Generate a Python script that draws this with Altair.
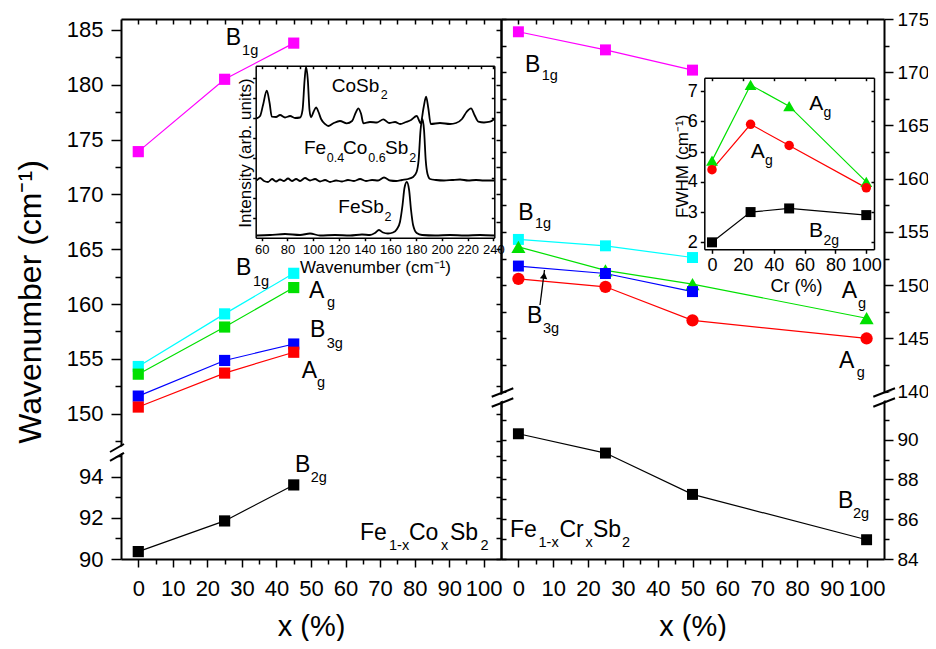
import altair as alt
import pandas as pd

FONT = "Liberation Sans"
MAGENTA, CYAN, GREEN, BLUE, RED, BLACK = "#ff00ff", "#00ffff", "#00e000", "#0000ff", "#ff0000", "#000000"

# ---------------- data: Fe1-xCoxSb2 (left panel) ----------------
co_x = [0, 25, 45]
co_B1g_high = [173.9, 180.5, 183.8]
co_B1g_low = [154.3, 159.1, 162.8]
co_Ag_high = [153.6, 157.9, 161.5]
co_B3g = [151.6, 154.85, 156.35]
co_Ag_low = [150.6, 153.7, 155.6]
co_B2g = [90.36, 91.85, 93.6]

# ---------------- data: Fe1-xCrxSb2 (right panel) ----------------
cr_x = [0, 25, 50, 100]
cr_B1g_high = [173.8, 172.1, 170.2]
cr_B1g_low = [154.3, 153.7, 152.6]
cr_Ag_high = [153.6, 151.4, 150.1, 146.9]
cr_B3g = [151.8, 151.1, 149.4]
cr_Ag_low = [150.6, 149.85, 146.7, 145.0]
cr_B2g = [90.3, 89.33, 87.25, 84.97]

# ---------------- inset: FWHM vs Cr ----------------
fwhm_x = [0, 25, 50, 100]
fwhm_Ag_high = [4.7, 7.2, 6.5, 4.0]
fwhm_Ag_low = [4.4, 5.9, 5.2, 3.8]
fwhm_B2g = [2.0, 3.0, 3.12, 2.9]

# ---------------- inset: Raman spectra ----------------
cosb2_w = [56.1, 58.7, 61.0, 63.9, 66.1, 67.8, 71.1, 74.2, 78.1, 82.0, 85.9, 89.8, 91.7, 93.3, 94.4,
           95.8, 97.1, 98.3, 100.2, 102.2, 104.1, 106.1, 109.2, 111.7, 115.6, 120.8, 126.0, 130.2,
           132.9, 135.1, 137.2, 139.0, 144.1, 149.6, 154.5, 158.9, 163.6, 167.5, 172.1, 176.0, 180.4,
           183.5, 185.7, 187.7, 189.4, 191.3, 198.5, 206.3, 211.0, 215.6, 219.1, 222.6, 225.3, 228.3,
           232.7, 237.4, 240.7]
cosb2_i = [119.4, 121.7, 132.7, 147.0, 134.7, 121.0, 120.7, 122.7, 120.2, 121.7, 119.7, 120.2, 127.7,
           157.7, 171.0, 157.7, 127.7, 120.4, 125.7, 130.4, 125.7, 118.7, 113.7, 111.7, 114.4, 116.7,
           114.4, 116.7, 124.7, 129.4, 123.7, 114.4, 115.7, 115.2, 118.4, 114.7, 115.7, 113.7, 115.7,
           117.7, 121.7, 114.4, 129.7, 141.0, 129.7, 113.7, 114.7, 113.7, 114.7, 118.7, 125.7, 129.4,
           122.7, 116.0, 115.2, 116.0, 118.7]
feco_w = [56.1, 58.7, 61.8, 64.9, 68.0, 71.1, 74.2, 77.3, 80.4, 83.5, 86.7, 89.8, 93.6, 97.5, 101.4,
          105.3, 109.2, 113.1, 117.7, 122.4, 127.0, 131.7, 136.4, 141.0, 145.7, 150.4, 155.0, 159.7,
          164.4, 169.0, 173.7, 177.6, 180.3, 181.9, 183.4, 184.8, 186.1, 187.4, 188.8, 190.8, 195.4,
          201.6, 207.9, 214.1, 220.3, 226.5, 232.7, 240.7]
feco_i = [57.2, 59.7, 56.7, 55.7, 58.7, 56.2, 58.2, 56.7, 59.2, 56.7, 58.7, 56.7, 59.7, 57.2, 58.7,
          56.2, 57.7, 55.7, 57.2, 56.2, 57.7, 56.7, 58.7, 56.7, 57.7, 57.2, 60.2, 57.2, 56.7, 57.7,
          58.7, 60.7, 65.7, 77.7, 107.7, 118.7, 107.7, 77.7, 63.7, 58.7, 57.7, 57.2, 57.7, 58.2, 57.2,
          57.7, 57.2, 57.2]
fesb2_w = [56.1, 66.4, 78.1, 89.8, 97.5, 105.3, 116.9, 128.6, 137.9, 144.1, 148.0, 151.1, 154.2, 158.1,
           162.0, 165.1, 167.4, 169.4, 170.9, 172.7, 174.5, 176.0, 177.6, 180.4, 184.6, 194.7, 206.3,
           218.0, 229.6, 240.7]
fesb2_i = [2.2, 2.7, 3.7, 2.7, 4.2, 2.2, 2.7, 2.2, 3.2, 2.7, 4.7, 7.7, 5.2, 4.2, 5.2, 8.7, 15.7, 32.7,
           49.7, 55.7, 47.7, 27.7, 12.7, 4.7, 2.7, 2.2, 2.7, 2.2, 2.7, 2.2]

# ---------------- annotations (text, x, y, font size) in data units ----------------
lu_text = ["B", "1g", "B", "1g", "A", "g", "B", "3g", "A", "g"]
lu_x = [25.33, 30.05, 28.29, 33.21, 49.42, 54.63, 49.71, 54.54, 47.31, 51.74]
lu_y = [183.63, 182.72, 162.65, 161.67, 160.55, 159.75, 156.99, 155.99, 153.25, 152.46]
lu_fs = [23, 14.5, 23, 14.5, 23, 14.5, 23, 14.5, 23, 14.5]

ll_text = ["B", "2g", "Fe", "1-x", "Co", "x", "Sb", "2"]
ll_x = [45.37, 49.91, 64.18, 72.58, 78.37, 87.63, 90.24, 99.07]
ll_y = [94.24, 93.76, 90.92, 90.44, 90.92, 90.44, 90.92, 90.44]
ll_fs = [23, 14.5, 23, 14.5, 23, 14.5, 23, 14.5]

ru_text = ["B", "1g", "B", "1g", "B", "3g", "A", "g", "A", "g"]
ru_x = [1.89, 6.69, -0.03, 4.77, 2.47, 7.06, 92.85, 97.53, 92.08, 97.16]
ru_y = [170.05, 169.27, 156.12, 155.34, 146.45, 145.51, 148.80, 147.86, 142.23, 141.41]
ru_fs = [23, 14.5, 23, 14.5, 23, 14.5, 23, 14.5, 23, 14.5]

rl_text = ["B", "2g", "Fe", "1-x", "Cr", "x", "Sb", "2"]
rl_x = [91.79, 96.10, -2.42, 5.77, 11.80, 19.27, 21.42, 29.75]
rl_y = [86.57, 86.05, 85.12, 84.62, 85.12, 84.62, 85.12, 84.62]
rl_fs = [23, 14.5, 23, 14.5, 23, 14.5, 23, 14.5]

sp_text = ["CoSb", "2", "Fe", "0.4", "Co", "0.6", "Sb", "2", "FeSb", "2"]
sp_x = [114.35, 152.43, 92.83, 110.47, 123.14, 142.79, 155.77, 174.65, 119.48, 155.38]
sp_y = [146.0, 138.7, 83.7, 76.0, 83.7, 76.0, 83.7, 76.0, 24.4, 17.0]
sp_fs = [19, 12.5, 19, 12.5, 19, 12.5, 19, 12.5, 19, 12.5]

fw_text = ["A", "g", "A", "g", "B", "2g"]
fw_x = [63.06, 72.26, 25.08, 34.35, 62.87, 72.26]
fw_y = [6.373, 6.141, 4.777, 4.555, 2.167, 1.912]
fw_fs = [21, 14, 21, 14, 21, 14]

# axis break marks and arrow (data units)
brk_l_x1, brk_l_x2 = [-8.18, -8.18], [-4.13, -4.13]
brk_l_y1, brk_l_y2 = [146.50, 145.68], [147.23, 146.41]
brk_l_mask = ([-8.18], [-4.13], [146.09], [146.82])
brk_r_x1, brk_r_x2 = [-7.67, -7.67, 101.93, 101.93], [-1.47, -1.47, 108.16, 108.16]
brk_r_y1, brk_r_y2 = [139.53, 138.59, 139.53, 138.59], [140.32, 139.38, 140.32, 139.38]
brk_r_mask = ([-7.67, 101.93], [-1.47, 108.16], [139.06, 139.06], [139.85, 139.85])
arrow = ([6.20], [7.49], [148.14], [151.43])
arrow_head = ([7.35], [150.9])

# ---------------- scales (domain, pixel range inside the plot area) ----------------
W, H = 763, 540
FRAMES = {
    "Lx": ([-5, 105], [0, 380]),
    "Rx": ([-5, 105], [380, 763]),
    "LU": ([146.5, 186], [433, 0]),
    "LL": ([90, 95.2], [540, 433]),
    "RU": ([140, 175], [372.7, 0]),
    "RL": ([84, 92.2], [540, 377]),
    "Sx": ([55.3, 240.7], [134.7, 373.3]),
    "Sy": ([0, 172], [218.7, 46.7]),
    "Fx": ([-5, 105], [583.3, 753]),
    "Fy": ([1.77, 7.44], [230.3, 58.7]),
}


def scale(f):
    dom, rng = FRAMES[f]
    return alt.Scale(domain=dom, range=rng, nice=False, zero=False)


def ex(f, axis=None, field="x"):
    return alt.X(f"{field}:Q", scale=scale(f), axis=axis)


def ey(f, axis=None, field="y"):
    return alt.Y(f"{field}:Q", scale=scale(f), axis=axis)


def ax(orient, values, tick, offset=0, labels=False, domain=True, **kw):
    base = dict(orient=orient, values=values, tickSize=tick, offset=offset, labels=labels,
                domain=domain, grid=False, labelOverlap=False, labelFlush=False, title=None)
    base.update(kw)
    return alt.Axis(**base)


def steps(a, b, s):
    out, v = [], a
    while v <= b + 1e-9:
        out.append(round(v, 3))
        v += s
    return out


def series_df(xs, series):
    rows = []
    for ys, color, shape, size in series:
        for xv, yv in zip(xs, ys):
            rows.append({"x": xv, "y": yv, "c": color, "shape": shape, "sz": size, "s": color})
    return pd.DataFrame(rows)


def text_df(t, x, y, fs):
    return pd.DataFrame({"t": t, "x": x, "y": y, "fs": fs})


def line_layer(df, fx, fy, xaxis=None, yaxis=None, width=1.2, interp="linear"):
    return alt.Chart(df).mark_line(strokeWidth=width, interpolate=interp).encode(
        x=ex(fx, xaxis), y=ey(fy, yaxis), color=alt.Color("c:N", scale=None), detail="s:N")


def point_layer(df, fx, fy, xaxis=None, yaxis=None):
    return alt.Chart(df).mark_point(filled=True, opacity=1, strokeWidth=0).encode(
        x=ex(fx, xaxis), y=ey(fy, yaxis), color=alt.Color("c:N", scale=None),
        shape=alt.Shape("shape:N", scale=None), size=alt.Size("sz:Q", scale=None))


def text_layer(df, fx, fy, xaxis=None, yaxis=None):
    return alt.Chart(df).mark_text(align="left", baseline="alphabetic", font=FONT, color="black").encode(
        x=ex(fx, xaxis), y=ey(fy, yaxis), text="t:N", size=alt.Size("fs:Q", scale=None))


def seg_layer(x1, x2, y1, y2, fx, fy, color, width):
    df = pd.DataFrame({"x1": x1, "x2": x2, "y1": y1, "y2": y2})
    return alt.Chart(df).mark_rule(color=color, strokeWidth=width).encode(
        x=ex(fx, None, "x1"), x2="x2:Q", y=ey(fy, None, "y1"), y2="y2:Q")


SQ, CI, TR = "square", "circle", "triangle-up"
co_up = series_df(co_x, [(co_B1g_high, MAGENTA, SQ, 125), (co_B1g_low, CYAN, SQ, 125),
                         (co_Ag_high, GREEN, SQ, 125), (co_B3g, BLUE, SQ, 125),
                         (co_Ag_low, RED, SQ, 125)])
co_lo = series_df(co_x, [(co_B2g, BLACK, SQ, 125)])
cr_up = series_df(cr_x, [(cr_B1g_high, MAGENTA, SQ, 120), (cr_B1g_low, CYAN, SQ, 120),
                         (cr_Ag_high, GREEN, TR, 200), (cr_B3g, BLUE, SQ, 120),
                         (cr_Ag_low, RED, CI, 150)])
cr_lo = series_df(cr_x, [(cr_B2g, BLACK, SQ, 120)])
fw = series_df(fwhm_x, [(fwhm_Ag_high, GREEN, TR, 140), (fwhm_Ag_low, RED, CI, 90),
                        (fwhm_B2g, BLACK, SQ, 100)])
spec = pd.concat([
    pd.DataFrame({"x": cosb2_w, "y": cosb2_i, "s": "CoSb2"}),
    pd.DataFrame({"x": feco_w, "y": feco_i, "s": "Fe0.4Co0.6Sb2"}),
    pd.DataFrame({"x": fesb2_w, "y": fesb2_i, "s": "FeSb2"}),
])
spec["c"] = BLACK

x_major, x_minor, x_top = steps(0, 100, 10), steps(5, 95, 10), steps(0, 100, 5)
MAIN_L = dict(labelFontSize=22, labelPadding=8)
MAIN_R = dict(labelFontSize=19, labelPadding=4)
XLAB = dict(labelFontSize=22, labelPadding=11)
XTITLE = dict(title="x (%)", titleFontSize=29, titleBaseline="alphabetic", titleY=76, titleAlign="center")

layers = [
    # ---- left panel ----
    line_layer(co_up, "Lx", "LU",
               xaxis=ax("bottom", x_major, 8, labels=True, titleX=190, **XTITLE, **XLAB),
               yaxis=ax("left", steps(150, 185, 5), 10, labels=True, title="Wavenumber (cm⁻¹)",
                        titleFontSize=32, titleAngle=270, titleAlign="center", titleBaseline="bottom",
                        titleX=-74, titleY=282.5, **MAIN_L)),
    point_layer(co_up, "Lx", "LU", xaxis=ax("bottom", x_minor, 5, domain=False),
                yaxis=ax("left", steps(147.5, 182.5, 5), 6, domain=False)),
    line_layer(co_lo, "Lx", "LL", xaxis=ax("bottom", x_top, 5, offset=-H),
               yaxis=ax("left", [90, 92, 94], 10, labels=True, **MAIN_L)),
    point_layer(co_lo, "Lx", "LL", yaxis=ax("left", [91, 93, 95], 6, domain=False)),
    text_layer(text_df(lu_text, lu_x, lu_y, lu_fs), "Lx", "LU",
               yaxis=ax("left", steps(147.5, 185, 2.5), 5, offset=-380)),
    text_layer(text_df(ll_text, ll_x, ll_y, ll_fs), "Lx", "LL",
               yaxis=ax("left", steps(90, 95, 1), 5, offset=-380)),
    # ---- right panel ----
    line_layer(cr_up, "Rx", "RU",
               xaxis=ax("bottom", x_major, 8, labels=True, titleX=571.5, **XTITLE, **XLAB),
               yaxis=ax("right", steps(140, 175, 5), 9, labels=True, **MAIN_R)),
    point_layer(cr_up, "Rx", "RU", xaxis=ax("bottom", x_minor, 5, domain=False),
                yaxis=ax("right", steps(142.5, 172.5, 5), 5, domain=False)),
    line_layer(cr_lo, "Rx", "RL", xaxis=ax("bottom", x_top, 5, offset=-H),
               yaxis=ax("right", [84, 86, 88, 90], 9, labels=True, **MAIN_R)),
    point_layer(cr_lo, "Rx", "RL", yaxis=ax("right", [85, 87, 89, 91], 5, domain=False)),
    text_layer(text_df(ru_text, ru_x, ru_y, ru_fs), "Rx", "RU",
               yaxis=ax("right", steps(140, 175, 2.5), 5, offset=-383)),
    text_layer(text_df(rl_text, rl_x, rl_y, rl_fs), "Rx", "RL",
               yaxis=ax("right", steps(84, 91, 1), 5, offset=-383)),
    # ---- spectra inset ----
    line_layer(spec, "Sx", "Sy",
               xaxis=ax("bottom", steps(60, 240, 20), 3, offset=218.7 - H, labels=True,
                        labelFontSize=13, labelPadding=3, domainWidth=1.5,
                        title="Wavenumber (cm⁻¹)", titleFontSize=17, titleBaseline="alphabetic",
                        titleX=254, titleY=35, titleAlign="center"),
               yaxis=ax("left", steps(20, 160, 20), 3, offset=-134.7, domainWidth=1.5,
                        title="Intensity (arb. units)", titleFontSize=17, titleAngle=270,
                        titleBaseline="alphabetic", titleAlign="center", titleX=-5.7, titleY=133.5),
               width=1.8, interp="monotone"),
    text_layer(text_df(sp_text, sp_x, sp_y, sp_fs), "Sx", "Sy",
               xaxis=ax("bottom", steps(60, 240, 10), 3, offset=46.7 - H, domainWidth=1.5),
               yaxis=ax("left", steps(20, 160, 20), 3, offset=-373.3, domainWidth=1.5)),
    # ---- FWHM inset ----
    line_layer(fw, "Fx", "Fy",
               xaxis=ax("bottom", steps(0, 100, 20), 4, offset=230.3 - H, labels=True,
                        labelFontSize=18, labelPadding=3, domainWidth=1.5,
                        title="Cr (%)", titleFontSize=18, titleBaseline="alphabetic",
                        titleX=675, titleY=42.4, titleAlign="center"),
               yaxis=ax("left", steps(2, 7, 1), 4, offset=-583.3, labels=True, labelFontSize=18,
                        labelPadding=3, domainWidth=1.5, title="FWHM (cm⁻¹)", titleFontSize=17,
                        titleAngle=270, titleBaseline="alphabetic", titleAlign="center",
                        titleX=-17.3, titleY=146.8)),
    point_layer(fw, "Fx", "Fy",
                xaxis=ax("bottom", steps(0, 100, 20), 3, offset=58.7 - H, domainWidth=1.5),
                yaxis=ax("left", steps(2, 7, 1), 3, offset=-753, domainWidth=1.5)),
    text_layer(text_df(fw_text, fw_x, fw_y, fw_fs), "Fx", "Fy"),
    # ---- axis breaks and arrow ----
    seg_layer(*brk_l_mask, "Lx", "LU", "white", 6),
    seg_layer(brk_l_x1, brk_l_x2, brk_l_y1, brk_l_y2, "Lx", "LU", "black", 2),
    seg_layer(*brk_r_mask, "Rx", "RU", "white", 6),
    seg_layer(brk_r_x1, brk_r_x2, brk_r_y1, brk_r_y2, "Rx", "RU", "black", 2),
    seg_layer(*arrow, "Rx", "RU", "black", 1.3),
    alt.Chart(pd.DataFrame({"x": arrow_head[0], "y": arrow_head[1]})).mark_point(
        shape="triangle-up", filled=True, color="black", opacity=1, size=55, angle=8
    ).encode(x=ex("Rx"), y=ey("RU")),
]

chart = alt.layer(*layers).resolve_scale(x="independent", y="independent").resolve_axis(
    x="independent", y="independent"
).properties(
    width=W, height=H, autosize=alt.AutoSizeParams(type="none"),
    padding={"left": 113, "top": 11, "right": 44, "bottom": 82},
).configure_view(stroke=None).configure_axis(
    domainColor="black", domainWidth=2, tickColor="black", tickWidth=1.5,
    labelColor="black", titleColor="black", labelFont=FONT, titleFont=FONT,
    titleFontWeight="normal", grid=False,
).configure_text(font=FONT)

chart.save("out.html", embed_options={"renderer": "svg", "actions": False})
